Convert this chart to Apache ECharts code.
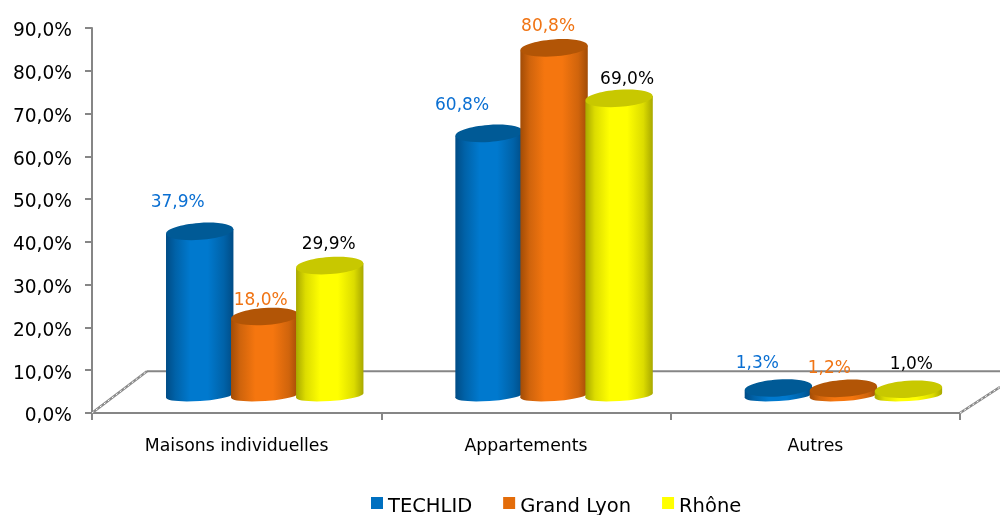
<!DOCTYPE html>
<html>
<head>
<meta charset="utf-8">
<style>html,body{margin:0;padding:0;background:#fff;overflow:hidden}#c{width:1000px;height:515px}</style>
<script src="https://cdn.jsdelivr.net/npm/echarts@6/dist/echarts.min.js"></script>
</head>
<body>
<div id="c"></div>
<script>
const categories = ['Maisons individuelles', 'Appartements', 'Autres'];
const seriesNames = ['TECHLID', 'Grand Lyon', 'Rhône'];
const techlid = [37.9, 60.8, 1.3];
const grandLyon = [18.0, 80.8, 1.2];
const rhone = [29.9, 69.0, 1.0];
const yMin = 0, yMax = 90, yStep = 10;

const FONT = '"DejaVu Sans",sans-serif';
const fmt = v => v.toFixed(1).replace('.', ',') + '%';
const styles = [
  {legend:'#0070C0', edge:'#004C86', mid:'#0062A8', bright:'#0079CE', top:'#005A96', label:'#0A6FD2'},
  {legend:'#E36C0A', edge:'#A24C06', mid:'#D0640C', bright:'#F5760F', top:'#B25506', label:'#F07414'},
  {legend:'#FFFF00', edge:'#A8A800', mid:'#DCDC00', bright:'#FFFF00', top:'#C8C800', label:'#000000'}
];
const BAND_W = 0.1165, BAND_STEP = 0.2247, BAND_SHIFT = 0.097;
const DEPTH = 19.5, BASE_DEPTH = 17.5, RY = 8.5, BASE_RY = 5.5, TILT = 0.07;
// label nudges [dx, dy] relative to each cylinder's top, per series then category
const labelNudge = [
  [[-22,-29],[-27,-28],[-21,-24]],
  [[-4,-16],[-6,-21],[-14,-20]],
  [[-1,-21],[8,-19],[3,-25]]
];

function cylinder(s) {
  const st = styles[s];
  return function (params, api) {
    const c = api.value(0), v = api.value(1);
    const band = api.size([1, 0])[0];
    const cx = api.coord([c, 0])[0] + band * (BAND_SHIFT + (s - 1) * BAND_STEP);
    const w = band * BAND_W;
    const top = api.coord([c, v])[1] - DEPTH;
    const base = api.coord([c, 0])[1] - BASE_DEPTH;
    const t = w * TILT;
    const grad = new echarts.graphic.LinearGradient(0, 0, 1, 0, [
      {offset:0, color:st.edge},{offset:0.14, color:st.mid},{offset:0.36, color:st.bright},
      {offset:0.62, color:st.bright},{offset:0.86, color:st.mid},{offset:1, color:st.edge}
    ]);
    const ell = (cy, ry, fill) => ({type:'ellipse', shape:{cx, cy, rx:w, ry}, rotation:TILT, originX:cx, originY:cy, style:{fill}});
    const n = labelNudge[s][c];
    return {type:'group', children:[
      ell(base, BASE_RY, grad),
      {type:'polygon', shape:{points:[[cx-w,top+t],[cx+w,top-t],[cx+w,base-t],[cx-w,base+t]]}, style:{fill:grad}},
      ell(top, RY, st.top),
      {type:'text', x:cx+n[0], y:top+n[1], style:{text:fmt(v), font:'17px '+FONT, fill:st.label, textAlign:'center', textVerticalAlign:'middle'}}
    ]};
  };
}

function floor(params, api) {
  const r = params.coordSys;
  const x0 = r.x, x1 = r.x + r.width, y0 = api.coord([0, yMin])[1], yb = api.coord([0, yStep])[1] + 1;
  const ln = (a, b, c, d, stroke, lw, dash) => ({type:'line', shape:{x1:a, y1:b, x2:c, y2:d}, style:{stroke, lineWidth:lw, lineDash:dash || null}});
  const diag = (a, b, c, d) => [ln(a, b, c, d, '#8a8a8a', 2.5), ln(a, b, c, d, '#ffffff', 1, [2, 3])];
  return {type:'group', children:[
    ln(x0 + 55, yb, 1000, yb, '#868686', 2),
    ...diag(x0, y0, x0 + 55, yb),
    ...diag(x1, y0, x1 + 40, y0 - 26)
  ]};
}

const valueSets = [techlid, grandLyon, rhone];
const chart = echarts.init(document.getElementById('c'), null, {renderer:'canvas'});
chart.setOption({
  animation:false,
  backgroundColor:'#fff',
  textStyle:{fontFamily:FONT},
  grid:{left:92, right:40, top:28, bottom:102},
  legend:{
    data:seriesNames.map((name, i) => ({name, itemStyle:{color:styles[i].legend}})),
    left:366, top:492, itemWidth:12, itemHeight:12, itemGap:31, icon:'rect',
    formatter:n => '{a|' + n + '}',
    textStyle:{fontFamily:FONT, fontSize:19.5, color:'#000', rich:{a:{fontFamily:FONT, fontSize:19.5, color:'#000', padding:[8,0,0,0]}}}, selectedMode:false
  },
  xAxis:{
    type:'category', data:categories, boundaryGap:true,
    axisLine:{lineStyle:{color:'#868686', width:2}},
    axisTick:{show:true, length:7, lineStyle:{color:'#868686', width:2}},
    axisLabel:{margin:25, fontSize:17.3, color:'#000', fontFamily:FONT}
  },
  yAxis:{
    type:'value', min:yMin, max:yMax, interval:yStep,
    axisLine:{show:true, lineStyle:{color:'#868686', width:2}},
    axisTick:{show:true, length:7, lineStyle:{color:'#868686', width:2}},
    splitLine:{show:false},
    axisLabel:{margin:20, color:'#000', formatter:v => '{a|' + fmt(v) + '}',
      rich:{a:{fontFamily:FONT, fontSize:18.6, color:'#000', padding:[7,0,0,0]}}}
  },
  series:[
    {type:'custom', name:'floor', renderItem:floor, data:[[0, 0]], silent:true, z:1},
    ...seriesNames.map((name, s) => ({
      type:'custom', name, renderItem:cylinder(s), z:2 + s, silent:true,
      itemStyle:{color:styles[s].legend},
      data:valueSets[s].map((v, i) => [i, v]),
      encode:{x:0, y:1}
    }))
  ]
});
</script>
</body>
</html>
